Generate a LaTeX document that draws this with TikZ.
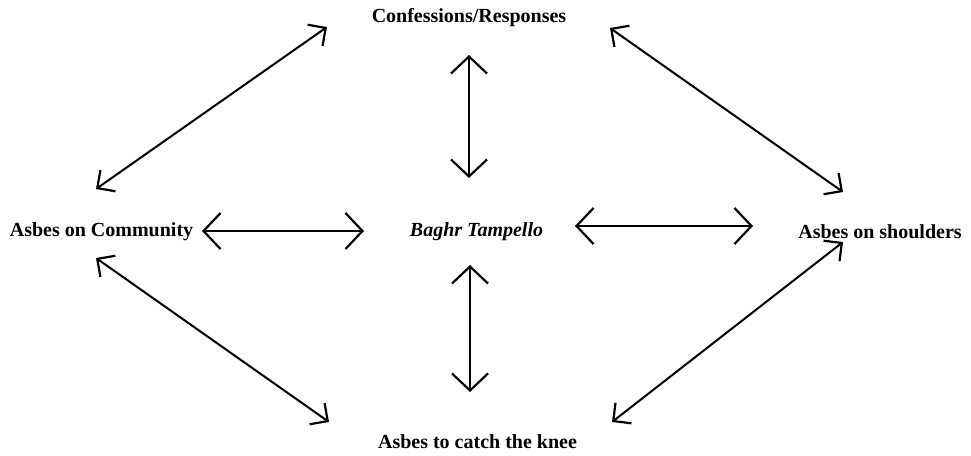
\documentclass[tikz,border=0pt]{standalone}
\usepackage{fontspec}
\setmainfont{Liberation Serif}
\usetikzlibrary{arrows.meta}
\begin{document}
\begin{tikzpicture}[x=1pt,y=-1pt,
  lbl/.style={font=\fontsize{20}{22}\selectfont\bfseries, inner sep=0pt, anchor=center},
  bigarrow/.style={line width=2pt, {Straight Barb[length=17pt,width=36pt,line width=2.2pt]}-{Straight Barb[length=17pt,width=36pt,line width=2.2pt]}},
  diagarrow/.style={line width=2pt, {Straight Barb[length=13pt,width=26pt,line width=2.2pt]}-{Straight Barb[length=13pt,width=26pt,line width=2.2pt]}}]
\useasboundingbox (0,0) rectangle (971,455);
\node[lbl] (conf) at (469,18) {Confessions/Responses};
\node[lbl] (comm) at (101.5,232) {Asbes on Community};
\node[lbl] (bagh) at (476.5,232) {\itshape Baghr Tampello};
\node[lbl] (shou) at (880,232) {Asbes on shoulders};
\node[lbl] (knee) at (477.5,442) {Asbes to catch the knee};
% arrow end points
\coordinate (tlA) at (96,189);   \coordinate (tlB) at (327,27);
\coordinate (trA) at (610,28);   \coordinate (trB) at (843,192);
\coordinate (blA) at (96,258);   \coordinate (blB) at (329,422);
\coordinate (brA) at (612,422);  \coordinate (brB) at (843,242);
\coordinate (vtA) at (469,55);   \coordinate (vtB) at (469,178);
\coordinate (vbA) at (470,265);  \coordinate (vbB) at (470,392);
\coordinate (hlA) at (202,231);  \coordinate (hlB) at (364,231);
\coordinate (hrA) at (575,226);  \coordinate (hrB) at (753,226);
\draw[diagarrow] (tlA) -- (tlB);
\draw[diagarrow] (trA) -- (trB);
\draw[diagarrow] (blA) -- (blB);
\draw[diagarrow] (brA) -- (brB);
\draw[bigarrow] (vtA) -- (vtB);
\draw[bigarrow] (vbA) -- (vbB);
\draw[bigarrow] (hlA) -- (hlB);
\draw[bigarrow] (hrA) -- (hrB);
\end{tikzpicture}
\end{document}
